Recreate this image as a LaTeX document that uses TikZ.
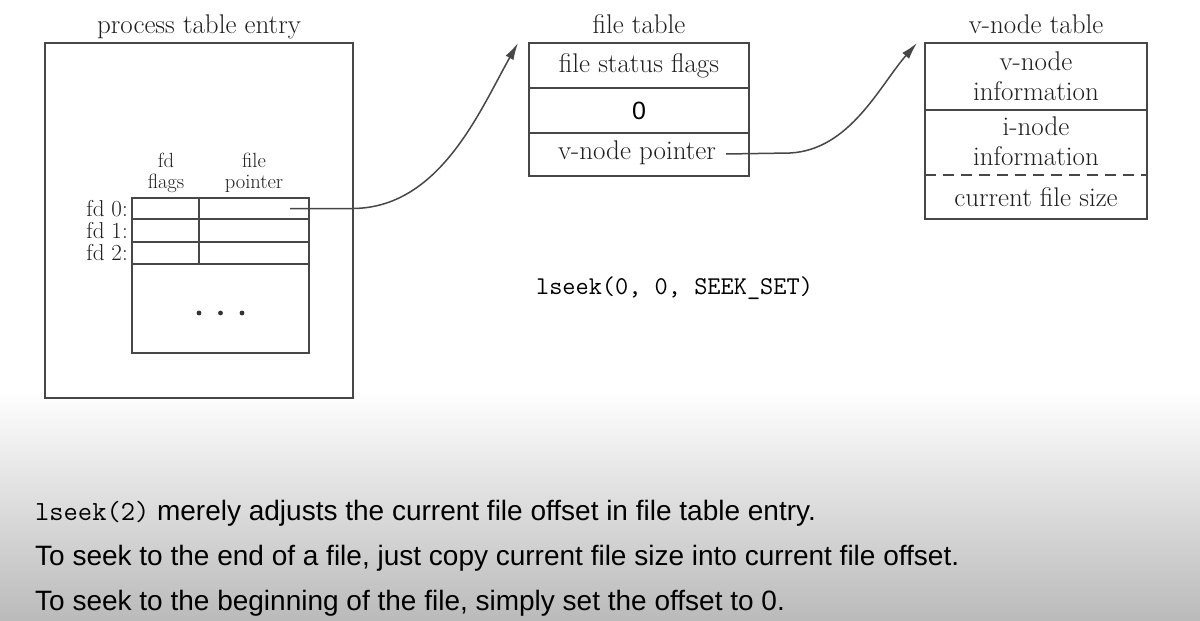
\documentclass[tikz,border=0pt]{standalone}
\usepackage{fontspec}
\newfontfamily\sansf{Liberation Sans}
\usetikzlibrary{arrows.meta}
\begin{document}
\begin{tikzpicture}[x=1pt,y=-1pt,
  ln/.style={draw=black!72, line width=1.6pt},
  cell/.style={ln, inner sep=0pt, outer sep=0pt},
  serif/.style={font=\fontsize{27}{30}\selectfont, text=black!88, inner sep=0pt},
  small/.style={font=\fontsize{20.5}{15}\selectfont, text=black!88, inner sep=0pt, anchor=base},
  fdl/.style={font=\fontsize{23}{24}\selectfont, text=black!88, inner sep=0pt},
  mono/.style={font=\fontsize{25.6}{28}\ttfamily, text=black, inner sep=0pt},
  btxt/.style={font=\fontsize{28}{32}\sansf, text=black, inner sep=0pt},
  conn/.style={draw=black!72, line width=1.5pt, -{Latex[length=17pt,width=9pt]}}]
\useasboundingbox (0,0) rectangle (1200,621);
\fill[white] (0,0) rectangle (1200,621);
\shade[top color=white, bottom color=black!27] (0,390) rectangle (1200,621);

% process table entry
\node[cell, minimum width=308pt, minimum height=355pt] (proc) at (199,220.5) {};
\node[serif, anchor=base] (proct) at (199,33) {process table entry};
\node[small] (hfd1) at (166,167) {fd};
\node[small] (hfd2) at (166,188) {flags};
\node[small] (hfp1) at (254,167) {file};
\node[small] (hfp2) at (254,188) {pointer};
\node[cell, minimum width=67pt, minimum height=21pt] (f0) at (165.5,208.5) {};
\node[cell, minimum width=110pt, minimum height=21pt] (p0) at (254,208.5) {};
\node[cell, minimum width=67pt, minimum height=23pt] (f1) at (165.5,230.5) {};
\node[cell, minimum width=110pt, minimum height=23pt] (p1) at (254,230.5) {};
\node[cell, minimum width=67pt, minimum height=22pt] (f2) at (165.5,253) {};
\node[cell, minimum width=110pt, minimum height=22pt] (p2) at (254,253) {};
\node[cell, minimum width=177pt, minimum height=89pt] (rest) at (220.5,308.5) {};
\node[fdl, anchor=base east] (l0) at (128,216) {fd 0:};
\node[fdl, anchor=base east] (l1) at (128,238) {fd 1:};
\node[fdl, anchor=base east] (l2) at (128,260) {fd 2:};
\fill[black!80] (199,313) circle (2.4pt) (220.5,313) circle (2.4pt) (242,313) circle (2.4pt);

% file table
\node[serif, anchor=base] (ftt) at (639,33) {file table};
\node[cell, minimum width=220pt, minimum height=45pt] (fsf) at (639,65.5) {};
\node[serif] at (fsf) {file status flags};
\node[cell, minimum width=220pt, minimum height=45pt] (zero) at (639,110.5) {};
\node[font=\fontsize{25}{28}\sansf, inner sep=0pt] at (zero) {0};
\node[cell, minimum width=220pt, minimum height=43pt] (vnp) at (639,154.5) {};
\node[serif] (vnpt) at (637,153) {v-node pointer};

% v-node table
\node[serif, anchor=base] (vtt) at (1036,33) {v-node table};
\node[cell, minimum width=222pt, minimum height=176pt] (vt) at (1036,131) {};
\draw[ln] (vt.west |- 0,110) -- (vt.east |- 0,110);
\draw[ln, dashed, dash pattern=on 11pt off 7pt] (vt.west |- 0,175) -- (vt.east |- 0,175);
\node[serif, align=center] (vinfo) at (1036,76) {v-node\\information};
\node[serif, align=center] (iinfo) at (1036,141) {i-node\\information};
\node[serif] (cfs) at (1036,197) {current file size};

% connectors
\coordinate (a1) at (290,208.5);
\coordinate (b1) at (352,208.5);
\coordinate (t1) at (518,43);
\draw[conn] (a1) -- (b1) .. controls (440,208.5) and (480,110) .. (t1);
\coordinate (a2) at (726,154);
\coordinate (b2) at (790,153);
\coordinate (t2) at (917,43);
\draw[conn] (a2) -- (b2) .. controls (850,150) and (880,85) .. (t2);

\node[mono, anchor=base] (ls) at (674.5,294) {lseek(0, 0, SEEK\_SET)};

% bottom text
\node[btxt, anchor=base west] (t1l) at (35,520) {{\fontsize{27.7}{30}\ttfamily lseek(2)} merely adjusts the current file offset in file table entry.};
\node[btxt, anchor=base west] (t2l) at (35,565) {To seek to the end of a file, just copy current file size into current file offset.};
\node[btxt, anchor=base west] (t3l) at (35,610) {To seek to the beginning of the file, simply set the offset to 0.};
\end{tikzpicture}
\end{document}
